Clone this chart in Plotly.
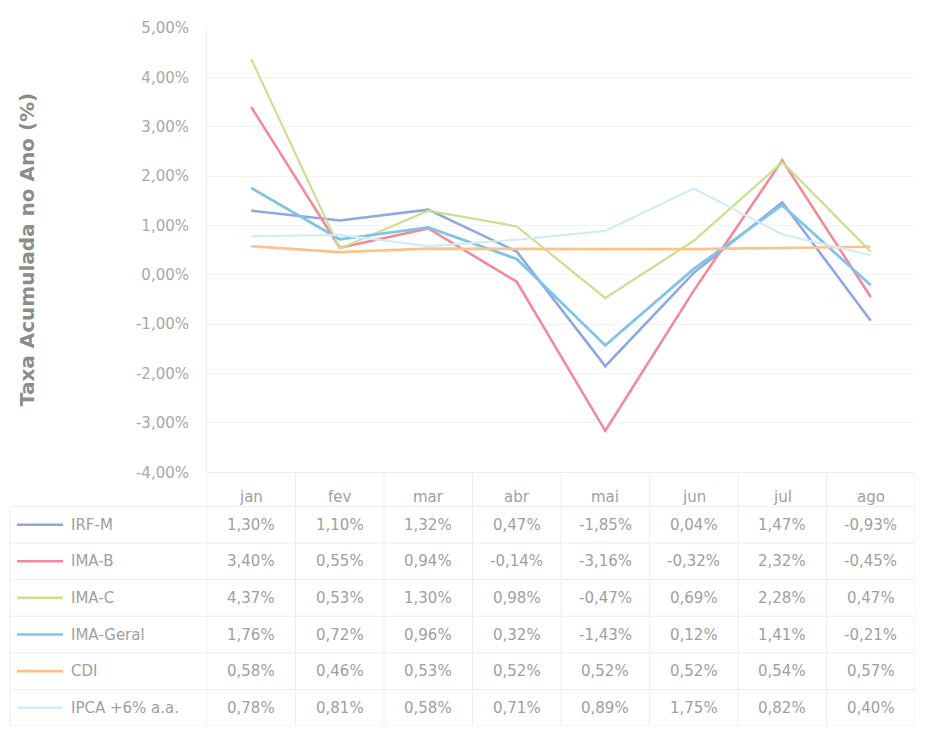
import plotly.graph_objects as go

# Monthly accumulated returns (%) per index
months = ["jan", "fev", "mar", "abr", "mai", "jun", "jul", "ago"]
series_names = ["IRF-M", "IMA-B", "IMA-C", "IMA-Geral", "CDI", "IPCA +6% a.a."]
irf_m = [1.30, 1.10, 1.32, 0.47, -1.85, 0.04, 1.47, -0.93]
ima_b = [3.40, 0.55, 0.94, -0.14, -3.16, -0.32, 2.32, -0.45]
ima_c = [4.37, 0.53, 1.30, 0.98, -0.47, 0.69, 2.28, 0.47]
ima_geral = [1.76, 0.72, 0.96, 0.32, -1.43, 0.12, 1.41, -0.21]
cdi = [0.58, 0.46, 0.53, 0.52, 0.52, 0.52, 0.54, 0.57]
ipca_6 = [0.78, 0.81, 0.58, 0.71, 0.89, 1.75, 0.82, 0.40]
y_ticks = [5, 4, 3, 2, 1, 0, -1, -2, -3, -4]

all_series = [irf_m, ima_b, ima_c, ima_geral, cdi, ipca_6]
colors = ["#8ea8e2", "#f28a9c", "#c9e08e", "#80c4e6", "#f9c48c", "#d3eaf7"]
widths = [2.6, 2.6, 2.2, 2.8, 2.6, 2.2]

def pct(v):
    return f"{v:.2f}%".replace(".", ",")

W, H = 926, 744
L, R, T, B = 207, 11, 28, 9
plot_w = W - L - R
plot_h = H - T - B
chart_bottom_px = 478  # bottom of the line chart area
split = (H - B - chart_bottom_px) / plot_h

def px_to_paper_x(px):
    return (px - L) / plot_w

text_color = "#a0a0a0"
border_color = "#ededed"
font_family = "DejaVu Sans"

fig = go.Figure()
for name, vals, c, w in zip(series_names, all_series, colors, widths):
    fig.add_trace(go.Scatter(
        x=months, y=vals, mode="lines", name=name,
        line=dict(color=c, width=w), showlegend=False,
    ))

# Data table below the chart, on its own invisible axis (one unit per row)
row_unit_px = 37.0
header_y = -(531 - 503) / row_unit_px
top_val = -(531 - chart_bottom_px) / row_unit_px
bottom_val = 5.5

annotations = []
shapes = []

for j, m in enumerate(months):
    annotations.append(dict(x=m, y=header_y, xref="x", yref="y2", text=m,
                            showarrow=False, font=dict(size=15, color=text_color, family=font_family)))

for i, (name, vals, c) in enumerate(zip(series_names, all_series, colors)):
    for m, v in zip(months, vals):
        annotations.append(dict(x=m, y=i, xref="x", yref="y2", text=pct(v),
                                showarrow=False, font=dict(size=15, color=text_color, family=font_family)))
    annotations.append(dict(x=px_to_paper_x(69), y=i, xref="paper", yref="y2", text=name,
                            xanchor="left", showarrow=False,
                            font=dict(size=15, color=text_color, family=font_family)))
    shapes.append(dict(type="line", xref="paper", yref="y2",
                       x0=px_to_paper_x(17), x1=px_to_paper_x(63), y0=i, y1=i,
                       line=dict(color=c, width=2.6)))

# Horizontal table borders
for k in range(7):
    yk = -0.5 + k
    shapes.append(dict(type="line", xref="paper", yref="y2",
                       x0=px_to_paper_x(10), x1=1, y0=yk, y1=yk,
                       line=dict(color=border_color, width=1)))
# Vertical table borders
for k in range(9):
    xk = -0.5 + k
    shapes.append(dict(type="line", xref="x", yref="y2",
                       x0=xk, x1=xk, y0=top_val, y1=bottom_val,
                       line=dict(color=border_color, width=1)))
shapes.append(dict(type="line", xref="paper", yref="y2",
                   x0=px_to_paper_x(10), x1=px_to_paper_x(10), y0=-0.5, y1=bottom_val,
                   line=dict(color=border_color, width=1)))

# Y-axis title
annotations.append(dict(x=px_to_paper_x(27), y=(1 + split) / 2, xref="paper", yref="paper",
                        xanchor="center", yanchor="middle",
                        text="<b>Taxa Acumulada no Ano (%)</b>", textangle=-90,
                        showarrow=False,
                        font=dict(size=20, color="#8c8c8c", family=font_family)))

fig.update_layout(
    width=W, height=H,
    margin=dict(l=L, r=R, t=T, b=B),
    paper_bgcolor="white", plot_bgcolor="white",
    xaxis=dict(type="category", categoryorder="array", categoryarray=months,
               range=[-0.5, 7.5], showticklabels=False, showgrid=False,
               showline=True, linecolor=border_color, ticks="", zeroline=False,
               anchor="y"),
    yaxis=dict(domain=[split, 1], range=[-4, 5], tickvals=y_ticks,
               ticktext=[pct(v) for v in y_ticks], showgrid=True,
               gridcolor="#f3f3f3", gridwidth=1, zeroline=False,
               showline=True, linecolor=border_color, ticks="",
               ticklabelstandoff=14,
               tickfont=dict(size=15, color="#a8a8a8", family=font_family)),
    yaxis2=dict(domain=[0, split], range=[bottom_val, top_val], visible=False,
                anchor="x"),
    annotations=annotations,
    shapes=shapes,
)

fig.write_html("out.html")
